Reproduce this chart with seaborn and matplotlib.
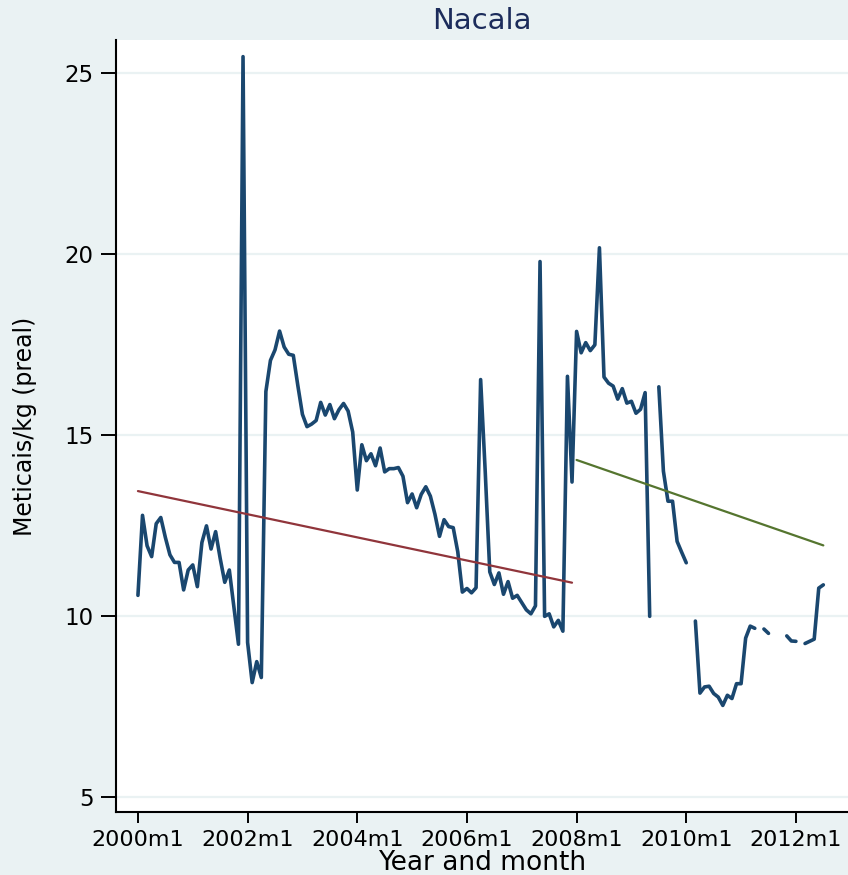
import numpy as np
import pandas as pd
import seaborn as sns
import matplotlib.pyplot as plt

# monthly real price, Nacala, 2000m1 .. 2012m7 (month 0 = 2000m1), nan = missing
price = [
    10.57, 12.78, 11.94, 11.64, 12.55, 12.72, 12.17, 11.69, 11.48, 11.48,
    10.72, 11.27, 11.41, 10.81, 12.03, 12.49, 11.85, 12.33, 11.59, 10.93,
    11.27, 10.25, 9.22, 25.45, 9.27, 8.16, 8.74, 8.30, 16.20, 17.06,
    17.35, 17.87, 17.43, 17.23, 17.20, 16.36, 15.57, 15.23, 15.30, 15.40,
    15.90, 15.55, 15.84, 15.45, 15.70, 15.87, 15.66, 15.08, 13.48, 14.73,
    14.29, 14.48, 14.15, 14.64, 13.98, 14.07, 14.07, 14.10, 13.86, 13.13,
    13.37, 12.99, 13.36, 13.57, 13.31, 12.81, 12.20, 12.66, 12.47, 12.44,
    11.77, 10.66, 10.76, 10.64, 10.78, 16.53, 14.00, 11.22, 10.87, 11.19,
    10.60, 10.95, 10.49, 10.57, 10.37, 10.17, 10.06, 10.28, 19.79, 9.99,
    10.06, 9.70, 9.88, 9.58, 16.62, 13.70, 17.86, 17.27, 17.55, 17.33,
    17.49, 20.17, 16.60, 16.43, 16.35, 15.99, 16.28, 15.88, 15.93, 15.60,
    15.71, 16.17, 9.99, np.nan, 16.33, 14.00, 13.17, 13.17, 12.06, 11.76,
    11.47, np.nan, 9.86, 7.87, 8.04, 8.06, 7.86, 7.76, 7.53, 7.81,
    7.72, 8.13, 8.13, 9.39, 9.72, 9.66, np.nan, 9.64, 9.52, np.nan,
    np.nan, np.nan, 9.45, 9.31, 9.30, np.nan, 9.24, 9.30, 9.36, 10.77,
    10.86,
]
months = list(range(len(price)))

# linear fits, before / after 2008m1
fit1_months = [0, 95]
fit1_vals = [13.45, 10.92]
fit2_months = [96, 150]
fit2_vals = [14.31, 11.95]

tick_months = [0, 24, 48, 72, 96, 120, 144]
tick_labels = ["2000m1", "2002m1", "2004m1", "2006m1", "2008m1", "2010m1", "2012m1"]
ytick_vals = [5, 10, 15, 20, 25]

BG = "#EAF2F3"
NAVY = "#1A476F"
MAROON = "#90353B"
GREEN = "#55752F"

sns.set_style("white")
plt.rcParams["font.family"] = ["DejaVu Sans"]

df = pd.DataFrame({"month": months, "price": price})
df["seg"] = df["price"].isna().cumsum()  # break line at gaps
df = df.dropna()

fits = pd.DataFrame({
    "month": fit1_months + fit2_months,
    "val": fit1_vals + fit2_vals,
    "period": ["pre"] * 2 + ["post"] * 2,
})

fig = plt.figure(figsize=(8.48, 8.75), dpi=100, facecolor=BG)
ax = fig.add_axes([0.1368, 0.072, 0.8632, 0.8823])
ax.set_facecolor("white")

sns.lineplot(data=df, x="month", y="price", units="seg", estimator=None,
             color=NAVY, lw=2.6, ax=ax)
sns.lineplot(data=fits, x="month", y="val", hue="period",
             palette={"pre": MAROON, "post": GREEN}, estimator=None,
             lw=1.6, legend=False, ax=ax)

ax.set_xlim(-4.8, 155.4)
ax.set_ylim(4.586, 25.91)
ax.set_xticks(tick_months)
ax.set_xticklabels(tick_labels)
ax.set_yticks(ytick_vals)

ax.yaxis.grid(True, color=BG, lw=1.6)
ax.xaxis.grid(False)
ax.set_axisbelow(True)

for s in ["top", "right"]:
    ax.spines[s].set_visible(False)
for s in ["left", "bottom"]:
    ax.spines[s].set_color("black")
    ax.spines[s].set_linewidth(1.5)

ax.tick_params(axis="y", left=True, direction="out", length=11, width=1.4,
               pad=5, labelsize=16.5, colors="black")
ax.tick_params(axis="x", bottom=True, direction="out", length=8, width=1.4,
               pad=5, labelsize=16, colors="black")

ax.set_title("Nacala", fontsize=21, color="#1C2C5B", pad=8)
ax.set_xlabel("Year and month", fontsize=19, color="black")
ax.set_ylabel("Meticais/kg (preal)", fontsize=17, color="black")
ax.xaxis.set_label_coords(0.5, -0.049)
ax.yaxis.set_label_coords(-0.108, 0.5)

fig.savefig("out.png", dpi=100, facecolor=BG)
